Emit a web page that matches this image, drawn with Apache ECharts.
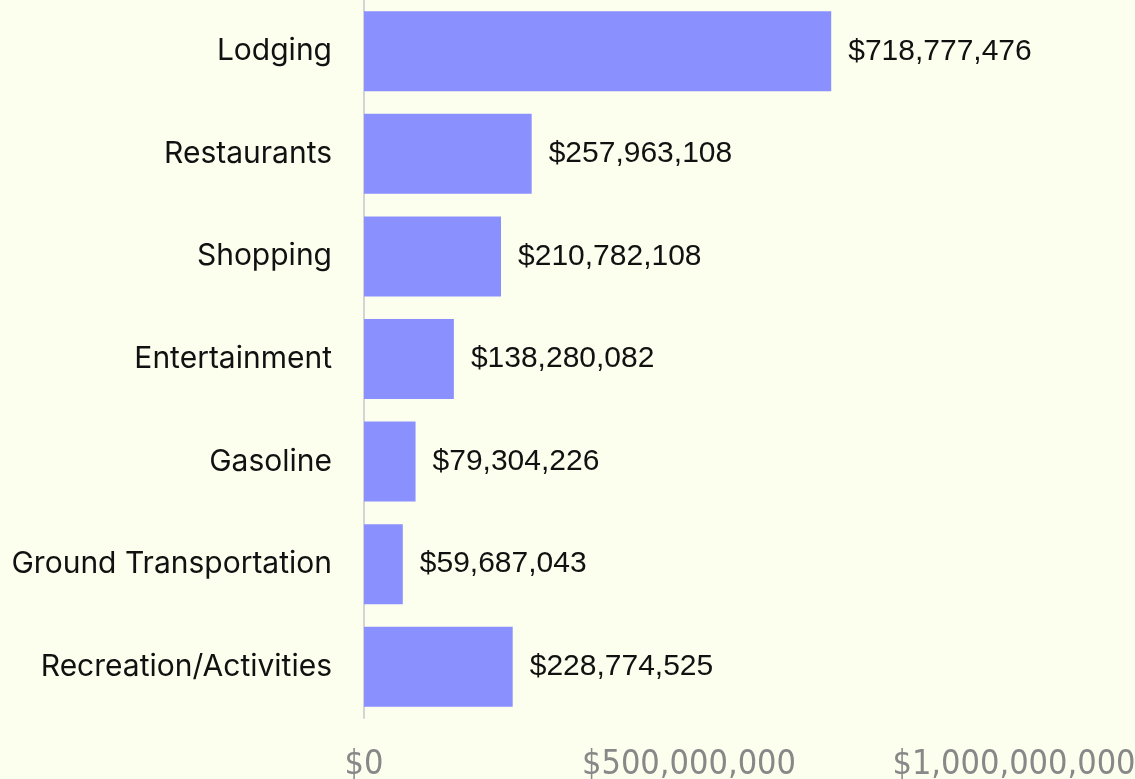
<!DOCTYPE html>
<html>
<head>
<meta charset="utf-8">
<script src="https://cdn.jsdelivr.net/npm/echarts@6/dist/echarts.min.js"></script>
<style>
  html, body { margin: 0; padding: 0; background: #fcffee; }
  #chart { width: 1135px; height: 779px; }
</style>
</head>
<body>
<div id="chart"></div>
<script>
const categories = ['Lodging', 'Restaurants', 'Shopping', 'Entertainment', 'Gasoline', 'Ground Transportation', 'Recreation/Activities']
const spending = [718777476, 257963108, 210782108, 138280082, 79304226, 59687043, 228774525]
const xTicks = [0, 500000000, 1000000000]

const money = v => '$' + Number(v).toLocaleString('en-US')

const chart = echarts.init(document.getElementById('chart'))
chart.setOption({
  backgroundColor: '#fcffee',
  animation: false,
  grid: { left: 364, right: 121, top: 0, bottom: 61, outerBoundsMode: 'none', containLabel: false },
  xAxis: {
    type: 'value',
    min: xTicks[0],
    max: xTicks[xTicks.length - 1],
    interval: xTicks[1] - xTicks[0],
    axisLine: { show: false },
    axisTick: { show: false },
    splitLine: { show: false },
    axisLabel: {
      margin: 30,
      color: '#888888',
      fontFamily: 'DejaVu Sans Condensed',
      fontSize: 34,
      hideOverlap: false,
      formatter: money
    }
  },
  yAxis: {
    type: 'category',
    data: categories,
    inverse: true,
    axisLine: { show: true, lineStyle: { color: '#d4d4d4', width: 2 } },
    axisTick: { show: false },
    axisLabel: {
      margin: 32,
      color: '#111111',
      fontFamily: 'Inter',
      fontSize: 30
    }
  },
  series: [{
    type: 'bar',
    data: spending,
    barCategoryGap: '22%',
    itemStyle: { color: '#8a91ff' },
    label: {
      show: true,
      position: 'right',
      distance: 17,
      color: '#111111',
      fontFamily: 'Liberation Sans',
      fontSize: 30,
      formatter: p => money(p.value)
    }
  }]
})
</script>
</body>
</html>
